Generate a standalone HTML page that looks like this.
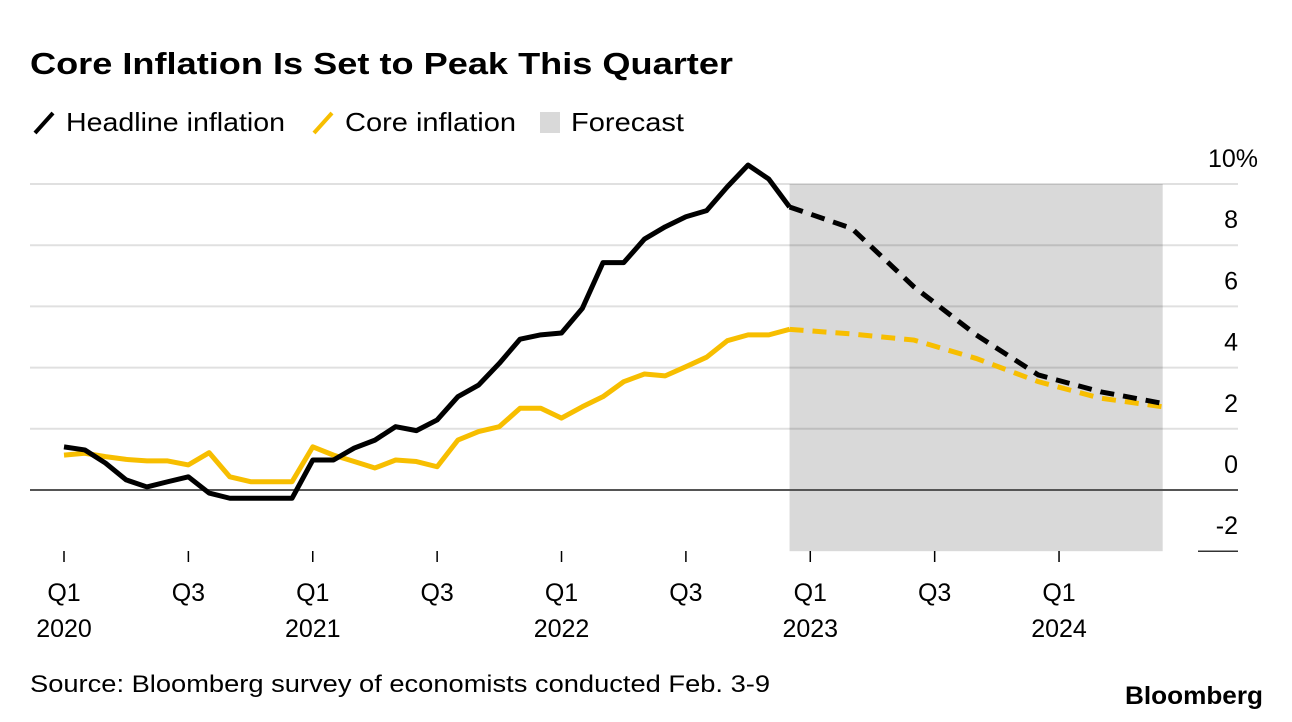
<!DOCTYPE html>
<html><head><meta charset="utf-8"><style>
html,body{margin:0;padding:0;background:#fff;}
svg{display:block;font-family:"Liberation Sans",Arial,sans-serif;}
</style></head><body>
<svg id="chart" width="1292" height="722" viewBox="0 0 1292 722" xmlns="http://www.w3.org/2000/svg">
<text x="30" y="74" font-size="31" font-weight="bold" fill="#000" textLength="703" lengthAdjust="spacingAndGlyphs">Core Inflation Is Set to Peak This Quarter</text>
<g>
  <g>
    <line x1="35" y1="133" x2="53" y2="113" stroke="#000" stroke-width="4"/>
    <text x="66" y="131" font-size="26" textLength="219" lengthAdjust="spacingAndGlyphs">Headline inflation</text>
  </g>
  <g>
    <line x1="314" y1="133" x2="332" y2="113" stroke="#f7be00" stroke-width="4"/>
    <text x="345" y="131" font-size="26" textLength="171" lengthAdjust="spacingAndGlyphs">Core inflation</text>
  </g>
  <g>
    <rect x="540" y="112" width="20" height="21" fill="#d9d9d9"/>
    <text x="571" y="131" font-size="26" textLength="113" lengthAdjust="spacingAndGlyphs">Forecast</text>
  </g>
</g>
<g id="plot"></g>
<text x="30" y="692" font-size="24" fill="#000" textLength="740" lengthAdjust="spacingAndGlyphs">Source: Bloomberg survey of economists conducted Feb. 3-9</text>
<text x="1263" y="704" font-size="25" font-weight="bold" text-anchor="end" fill="#000" textLength="138" lengthAdjust="spacingAndGlyphs">Bloomberg</text>
</svg>
<script>
const headlineActual = [1.41,1.31,0.88,0.33,0.1,0.27,0.43,-0.1,-0.27,-0.27,-0.27,-0.27,0.98,0.98,1.37,1.63,2.07,1.94,2.29,3.05,3.43,4.14,4.93,5.07,5.13,5.93,7.43,7.43,8.2,8.6,8.93,9.13,9.91,10.62,10.16,9.25];
const coreActual = [1.14,1.2,1.09,1.0,0.95,0.95,0.82,1.22,0.43,0.27,0.27,0.27,1.41,1.14,0.93,0.72,0.98,0.93,0.76,1.63,1.91,2.07,2.67,2.67,2.35,2.72,3.05,3.54,3.79,3.73,4.03,4.34,4.88,5.07,5.07,5.25];
const forecastMonths = [35,38,41,44,47,50,53];
const headlineForecast = [9.25,8.55,6.64,5.07,3.76,3.21,2.83];
const coreForecast = [5.25,5.1,4.9,4.3,3.54,3.0,2.72];
const yTicks = [10,8,6,4,2,0,-2];
const yTickLabels = ["10%","8","6","4","2","0","-2"];
const xTickMonths = [0,6,12,18,24,30,36,42,48];
const xTickQ = ["Q1","Q3","Q1","Q3","Q1","Q3","Q1","Q3","Q1"];
const xTickYear = ["2020","","2021","","2022","","2023","","2024"];
const forecastStart = 35, forecastEnd = 53;

const NS="http://www.w3.org/2000/svg";
const plot=document.getElementById('plot');
const x=m=>64+m*20.73;
const y=v=>490-v*30.6;
function mk(tag,attrs){const e=document.createElementNS(NS,tag);for(const k in attrs)e.setAttribute(k,attrs[k]);plot.appendChild(e);return e;}

let sh=mk('rect',{x:x(forecastStart),y:y(10),width:x(forecastEnd)-x(forecastStart),height:y(-2)-y(10),fill:'#d9d9d9'});



yTicks.forEach((v,i)=>{
  let g;
  if(v===0){g=mk('line',{x1:30,x2:1238,y1:y(v),y2:y(v),stroke:'#555','stroke-width':2});}
  else if(v===-2){g=mk('line',{x1:1198,x2:1238,y1:y(v),y2:y(v),stroke:'#333','stroke-width':1.5});}
  else {g=mk('line',{x1:30,x2:1238,y1:y(v),y2:y(v),stroke:'#000','stroke-opacity':0.12,'stroke-width':2});}
  
  
  let t=mk('text',{x:1238,y:y(v)-17,'font-size':25,'text-anchor':'end',fill:'#000'});
  t.textContent=yTickLabels[i];
  if(i===0){t.setAttribute('text-anchor','start');t.setAttribute('x',1208);}
  
  
});

xTickMonths.forEach((m,i)=>{
  let tk=mk('line',{x1:x(m),x2:x(m),y1:551,y2:562,stroke:'#000','stroke-width':1.5});
  
  
  let t=mk('text',{x:x(m),y:601,'font-size':25,'text-anchor':'middle'});
  t.textContent=xTickQ[i];
  
  
  if(xTickYear[i]){
    let t2=mk('text',{x:x(m),y:637,'font-size':25,'text-anchor':'middle'});
    t2.textContent=xTickYear[i];
    
    
  }
});

function pts(vals,months){return vals.map((v,i)=>x(months?months[i]:i)+','+y(v)).join(' ');}
let ca=mk('polyline',{points:pts(coreActual),fill:'none',stroke:'#f7be00','stroke-width':5,'stroke-linejoin':'round'});


let cf=mk('polyline',{points:pts(coreForecast,forecastMonths),fill:'none',stroke:'#f7be00','stroke-width':5,'stroke-dasharray':'14 9'});


let ha=mk('polyline',{points:pts(headlineActual),fill:'none',stroke:'#000','stroke-width':5,'stroke-linejoin':'round'});


let hf=mk('polyline',{points:pts(headlineForecast,forecastMonths),fill:'none',stroke:'#000','stroke-width':5,'stroke-dasharray':'14 9'});


</script>
</body></html>
